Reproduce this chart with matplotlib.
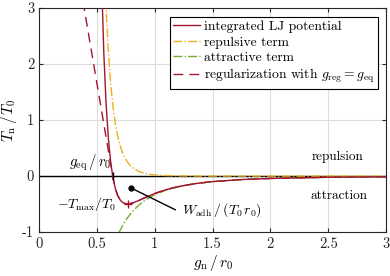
import matplotlib
matplotlib.use("Agg")
import matplotlib.pyplot as plt

plt.rcParams['font.family'] = 'cmr10'
plt.rcParams['mathtext.fontset'] = 'cm'
plt.rcParams['axes.formatter.use_mathtext'] = True

# values (T_n/T_0 over g_n/r_0)
g_lj = [0.54, 0.56, 0.58, 0.60, 0.62, 0.64, 0.66, 0.68, 0.70, 0.72, 0.74, 0.765,
        0.79, 0.82, 0.86, 0.90, 0.95, 1.0, 1.1, 1.2, 1.35, 1.5, 1.75, 2.0, 2.5, 3.0]
t_lj = [3.575, 2.205, 1.283, 0.662, 0.243, -0.038, -0.224, -0.345, -0.421, -0.466, -0.489, -0.497,
        -0.491, -0.472, -0.438, -0.400, -0.354, -0.311, -0.241, -0.189, -0.134, -0.098, -0.062, -0.042, -0.021, -0.012]

g_rep = [0.57, 0.58, 0.60, 0.62, 0.64, 0.66, 0.68, 0.70, 0.72, 0.74, 0.76, 0.79,
         0.82, 0.86, 0.90, 0.95, 1.0, 1.1, 1.2, 1.35, 1.5, 2.0, 3.0]
t_rep = [3.499, 2.992, 2.205, 1.642, 1.234, 0.935, 0.715, 0.551, 0.427, 0.334, 0.263, 0.185,
         0.133, 0.086, 0.057, 0.035, 0.022, 0.0094, 0.0043, 0.0015, 0.0006, 0.00004, 0.0]

g_att = [0.69, 0.70, 0.72, 0.74, 0.76, 0.79, 0.82, 0.86, 0.90, 0.95, 1.0, 1.1,
         1.2, 1.35, 1.5, 1.75, 2.0, 2.5, 3.0]
t_att = [-1.015, -0.972, -0.893, -0.823, -0.759, -0.676, -0.605, -0.524, -0.457, -0.389, -0.333, -0.250,
         -0.193, -0.135, -0.099, -0.062, -0.042, -0.021, -0.012]

g_reg = [0.38, 0.6368, 0.66, 0.68, 0.70, 0.72, 0.74, 0.765, 0.79, 0.82, 0.86, 0.90, 0.95, 1.0,
         1.1, 1.2, 1.35, 1.5, 1.75, 2.0, 2.5, 3.0]
t_reg = [3.12, 0.0, -0.224, -0.345, -0.421, -0.466, -0.489, -0.497, -0.491, -0.472, -0.438, -0.400, -0.354, -0.311,
         -0.241, -0.189, -0.134, -0.098, -0.062, -0.042, -0.021, -0.012]

g_eq = 0.6368
g_min, t_min = 0.765, -0.497
w_dot = (0.797, -0.214)

red = '#A2142F'
yellow = '#EDB120'
green = '#77AC30'

fig = plt.figure(figsize=(3.9, 2.76), dpi=100)
ax = fig.add_axes([0.1, 0.159, 0.89, 0.812])

ax.axhline(0, color='k', lw=1.0, zorder=1)
ax.plot(g_reg, t_reg, color=red, lw=1.0, ls=(0, (7, 4.5)), label=r'regularization with $g_\mathrm{reg}=g_\mathrm{eq}$', zorder=2)
ax.plot(g_att, t_att, color=green, lw=1.0, ls='-.', label='attractive term', zorder=2)
ax.plot(g_rep, t_rep, color=yellow, lw=1.0, ls='-.', label='repulsive term', zorder=2)
ax.plot(g_lj, t_lj, color=red, lw=1.0, label='integrated LJ potential', zorder=3)

ax.plot([g_eq], [0], marker='|', color='k', ms=6, mew=1.0, zorder=4)
ax.plot([g_min], [t_min], marker='+', color=red, ms=6, mew=1.0, zorder=4)
ax.plot([w_dot[0], 1.177], [w_dot[1], -0.6], color='k', lw=1.0, zorder=4)
ax.plot([w_dot[0]], [w_dot[1]], marker='o', color='k', ms=3.5, zorder=4)

ax.text(0.625, 0.24, r'$g_\mathrm{eq}\,/\,r_0$', ha='right', va='center', fontsize=10.5)
ax.text(0.67, -0.5, r'$-T_\mathrm{max}/T_0$', ha='right', va='center', fontsize=10)
ax.text(1.235, -0.61, r'$W_\mathrm{adh}\,/\,(T_0\,r_0)$', ha='left', va='center', fontsize=10)
ax.text(2.58, 0.34, 'repulsion', ha='center', va='center', fontsize=9.5)
ax.text(2.59, -0.35, 'attraction', ha='center', va='center', fontsize=9.5)

ax.set_xlim(0, 3)
ax.set_ylim(-1, 3)
ax.set_xticks([0, 0.5, 1, 1.5, 2, 2.5, 3])
ax.set_xticklabels(['0', '0.5', '1', '1.5', '2', '2.5', '3'])
ax.set_yticks([-1, 0, 1, 2, 3])
ax.set_yticklabels(['-1', '0', '1', '2', '3'])
ax.tick_params(direction='in', top=True, right=True, labelsize=10.5, length=3, width=0.8, colors='#262626')
ax.grid(True, color='#dddddd', lw=0.8)
ax.set_axisbelow(True)
for s in ax.spines.values():
    s.set_color('#262626')
    s.set_linewidth(0.8)

ax.set_xlabel(r'$g_\mathrm{n}\,/\,r_0$', fontsize=11, labelpad=2)
ax.set_ylabel(r'$T_\mathrm{n}\,/\,T_0$', fontsize=11, labelpad=2)

h, l = ax.get_legend_handles_labels()
order = [3, 2, 1, 0]
leg = ax.legend([h[i] for i in order], [l[i] for i in order], loc='upper right', fontsize=9.8,
                fancybox=False, edgecolor='k', framealpha=1, handlelength=2.0, handletextpad=0.3,
                labelspacing=0.22, borderpad=0.25, borderaxespad=0, bbox_to_anchor=(0.977, 0.96))
leg.get_frame().set_linewidth(0.8)

fig.savefig('out.png', dpi=100)
